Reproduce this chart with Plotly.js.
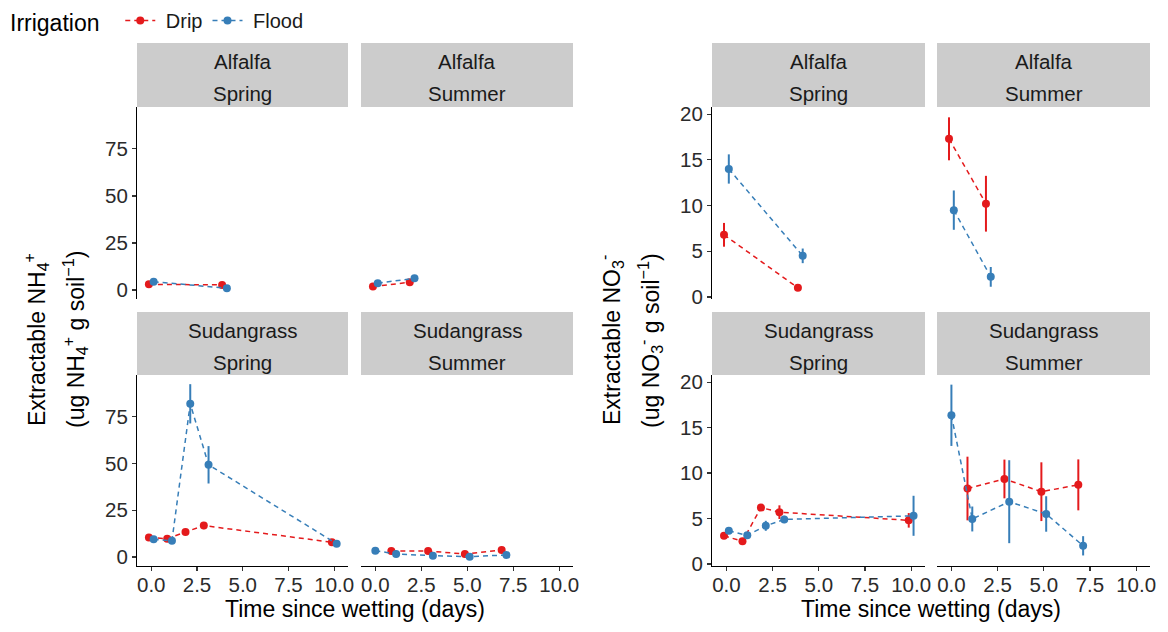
<!DOCTYPE html>
<html>
<head>
<meta charset="utf-8">
<script src="https://cdn.plot.ly/plotly-3.0.1.min.js"></script>
<style>html,body{margin:0;padding:0;background:#fff;}#chart{width:1168px;height:632px;}</style>
</head>
<body>
<div id="chart"></div>
<script>
// ---------- data ----------
const irrigation = ["Drip", "Flood"];
const irrigationColors = ["#E41A1C", "#377EB8"];
const crops = ["Alfalfa", "Sudangrass"];
const seasons = ["Spring", "Summer"];
const xTickVals = [0, 2.5, 5, 7.5, 10];
const xTickText = ["0.0", "2.5", "5.0", "7.5", "10.0"];
const nh4TickVals = [0, 25, 50, 75];
const no3TickVals = [0, 5, 10, 15, 20];

// NH4 - Alfalfa Spring
const nh4AlfSprDripT = [0, 4];
const nh4AlfSprDrip = [3.0, 2.7];
const nh4AlfSprDripSE = [0.6, 0.5];
const nh4AlfSprFloodT = [0, 4];
const nh4AlfSprFlood = [4.4, 0.9];
const nh4AlfSprFloodSE = [0.7, 0.4];
// NH4 - Alfalfa Summer
const nh4AlfSumDripT = [0, 2];
const nh4AlfSumDrip = [1.8, 4.1];
const nh4AlfSumDripSE = [0.5, 0.7];
const nh4AlfSumFloodT = [0, 2];
const nh4AlfSumFlood = [3.6, 6.2];
const nh4AlfSumFloodSE = [0.6, 0.9];
// NH4 - Sudangrass Spring
const nh4SudSprDripT = [0, 1, 2, 3, 10];
const nh4SudSprDrip = [10.5, 9.8, 13.4, 16.8, 7.9];
const nh4SudSprDripSE = [1.0, 1.0, 1.2, 1.9, 1.0];
const nh4SudSprFloodT = [0, 1, 2, 3, 10];
const nh4SudSprFlood = [9.5, 8.7, 81.9, 49.3, 7.1];
const nh4SudSprFloodSE = [1.0, 1.0, 10.5, 10.0, 1.0];
// NH4 - Sudangrass Summer
const nh4SudSumDripT = [1, 3, 5, 7];
const nh4SudSumDrip = [3.2, 3.2, 1.6, 3.7];
const nh4SudSumDripSE = [0.6, 0.6, 0.5, 0.7];
const nh4SudSumFloodT = [0, 1, 3, 5, 7];
const nh4SudSumFlood = [3.4, 1.6, 0.7, 0.2, 1.1];
const nh4SudSumFloodSE = [0.6, 0.4, 0.3, 0.2, 0.3];

// NO3 - Alfalfa Spring
const no3AlfSprDripT = [0, 4];
const no3AlfSprDrip = [6.8, 1.0];
const no3AlfSprDripSE = [1.3, 0.2];
const no3AlfSprFloodT = [0, 4];
const no3AlfSprFlood = [14.0, 4.5];
const no3AlfSprFloodSE = [1.6, 0.8];
// NO3 - Alfalfa Summer
const no3AlfSumDripT = [0, 2];
const no3AlfSumDrip = [17.3, 10.2];
const no3AlfSumDripSE = [2.35, 3.05];
const no3AlfSumFloodT = [0, 2];
const no3AlfSumFlood = [9.5, 2.2];
const no3AlfSumFloodSE = [2.15, 1.08];
// NO3 - Sudangrass Spring
const no3SudSprDripT = [0, 1, 2, 3, 10];
const no3SudSprDrip = [3.1, 2.5, 6.2, 5.7, 4.8];
const no3SudSprDripSE = [0.3, 0.3, 0.3, 0.75, 0.8];
const no3SudSprFloodT = [0, 1, 2, 3, 10];
const no3SudSprFlood = [3.65, 3.15, 4.2, 4.9, 5.3];
const no3SudSprFloodSE = [0.3, 0.3, 0.55, 0.4, 2.2];
// NO3 - Sudangrass Summer
const no3SudSumDripT = [1, 3, 5, 7];
const no3SudSumDrip = [8.3, 9.35, 7.95, 8.7];
const no3SudSumDripSE = [3.5, 2.13, 3.23, 2.8];
const no3SudSumFloodT = [0, 1, 3, 5, 7];
const no3SudSumFlood = [16.35, 4.95, 6.85, 5.5, 2.0];
const no3SudSumFloodSE = [3.37, 1.37, 4.56, 1.95, 1.06];

// ---------- layout helpers ----------
const W = 1168, H = 632;
const fx = p => p / W;
const fy = p => 1 - p / H;
const FONT = "Liberation Sans, Arial, Helvetica, sans-serif";
const NB = "\u00a0";
const colPx = [[137, 348], [361, 573], [712, 925], [937, 1150]];
const rowPx = [[107, 299], [375, 566]];
const stripPx = [[43, 107], [312, 375]];
const xRange = [-0.78, 10.75];
const nh4Range = [-4.8, 97.3];
const no3Range = [-0.22, 20.78];
const DODGE = 0.13;

const panels = [
  {row: 0, col: 0, crop: 0, season: 0, nh4: true, d: [nh4AlfSprDripT, nh4AlfSprDrip, nh4AlfSprDripSE], f: [nh4AlfSprFloodT, nh4AlfSprFlood, nh4AlfSprFloodSE]},
  {row: 0, col: 1, crop: 0, season: 1, nh4: true, d: [nh4AlfSumDripT, nh4AlfSumDrip, nh4AlfSumDripSE], f: [nh4AlfSumFloodT, nh4AlfSumFlood, nh4AlfSumFloodSE]},
  {row: 0, col: 2, crop: 0, season: 0, nh4: false, d: [no3AlfSprDripT, no3AlfSprDrip, no3AlfSprDripSE], f: [no3AlfSprFloodT, no3AlfSprFlood, no3AlfSprFloodSE]},
  {row: 0, col: 3, crop: 0, season: 1, nh4: false, d: [no3AlfSumDripT, no3AlfSumDrip, no3AlfSumDripSE], f: [no3AlfSumFloodT, no3AlfSumFlood, no3AlfSumFloodSE]},
  {row: 1, col: 0, crop: 1, season: 0, nh4: true, d: [nh4SudSprDripT, nh4SudSprDrip, nh4SudSprDripSE], f: [nh4SudSprFloodT, nh4SudSprFlood, nh4SudSprFloodSE]},
  {row: 1, col: 1, crop: 1, season: 1, nh4: true, d: [nh4SudSumDripT, nh4SudSumDrip, nh4SudSumDripSE], f: [nh4SudSumFloodT, nh4SudSumFlood, nh4SudSumFloodSE]},
  {row: 1, col: 2, crop: 1, season: 0, nh4: false, d: [no3SudSprDripT, no3SudSprDrip, no3SudSprDripSE], f: [no3SudSprFloodT, no3SudSprFlood, no3SudSprFloodSE]},
  {row: 1, col: 3, crop: 1, season: 1, nh4: false, d: [no3SudSumDripT, no3SudSumDrip, no3SudSumDripSE], f: [no3SudSumFloodT, no3SudSumFlood, no3SudSumFloodSE]}
];

const traces = [];
const layout = {
  width: W, height: H,
  margin: {l: 0, r: 0, t: 0, b: 0},
  paper_bgcolor: "#fff", plot_bgcolor: "#fff",
  font: {family: FONT, color: "#1a1a1a"},
  showlegend: true,
  legend: {
    orientation: "h", x: fx(8), y: 1 - 1 / H, xanchor: "left", yanchor: "top",
    title: {text: "Irrigation" + NB + NB, font: {size: 23, color: "#000"}, side: "left"},
    font: {size: 20, color: "#1a1a1a"}, itemwidth: 30, tracegroupgap: 0, bgcolor: "rgba(0,0,0,0)"
  },
  shapes: [], annotations: []
};

panels.forEach((p, i) => {
  const k = i + 1;
  const xa = "x" + k, ya = "y" + k;
  const groups = [p.d, p.f];
  groups.forEach((g, gi) => {
    const other = groups[1 - gi][0];
    const xs = g[0].map(t => other.indexOf(t) >= 0 ? t + (gi === 0 ? -DODGE : DODGE) : t);
    traces.push({
      type: "scatter", mode: "lines+markers",
      x: xs, y: g[1],
      error_y: {type: "data", array: g[2], visible: true, thickness: 2, width: 0, color: irrigationColors[gi]},
      line: {color: irrigationColors[gi], width: 1.5, dash: "5px,4px"},
      marker: {color: irrigationColors[gi], size: 8},
      name: NB + irrigation[gi], legendgroup: irrigation[gi], showlegend: k === 1,
      xaxis: xa, yaxis: ya, hoverinfo: "skip"
    });
  });
  const showX = p.row === 1;
  const showY = p.col === 0 || p.col === 2;
  layout["xaxis" + k] = {
    domain: [fx(colPx[p.col][0]), fx(colPx[p.col][1])], range: xRange, anchor: ya,
    showgrid: false, zeroline: false, fixedrange: true,
    showline: showX, linecolor: "#000", linewidth: 1.1,
    ticks: showX ? "outside" : "", ticklen: 4, tickwidth: 1.1, tickcolor: "#333",
    showticklabels: showX, tickmode: "array", tickvals: xTickVals, ticktext: xTickText,
    ticklabelstandoff: -4,
    tickfont: {size: 20.5, color: "#2b2b2b"}
  };
  layout["yaxis" + k] = {
    domain: [fy(rowPx[p.row][1]), fy(rowPx[p.row][0])], range: p.nh4 ? nh4Range : no3Range, anchor: xa,
    showgrid: false, zeroline: false, fixedrange: true,
    showline: showY, linecolor: "#000", linewidth: 1.1,
    ticks: showY ? "outside" : "", ticklen: 4, tickwidth: 1.1, tickcolor: "#333",
    showticklabels: showY, tickmode: "array", tickvals: p.nh4 ? nh4TickVals : no3TickVals,
    tickfont: {size: 20.5, color: "#2b2b2b"}
  };
  // strip
  const sx0 = colPx[p.col][0], sx1 = colPx[p.col][1];
  const sy0 = stripPx[p.row][0], sy1 = stripPx[p.row][1];
  layout.shapes.push({type: "rect", xref: "paper", yref: "paper", x0: fx(sx0), x1: fx(sx1), y0: fy(sy1), y1: fy(sy0),
    fillcolor: "#CCCCCC", line: {width: 0}, layer: "below"});
  const cx = fx((sx0 + sx1) / 2);
  layout.annotations.push({xref: "paper", yref: "paper", x: cx, y: fy(sy0 + 18.5), text: crops[p.crop],
    showarrow: false, xanchor: "center", yanchor: "middle", font: {size: 20.5, color: "#1a1a1a"}});
  layout.annotations.push({xref: "paper", yref: "paper", x: cx, y: fy(sy0 + 50), text: seasons[p.season],
    showarrow: false, xanchor: "center", yanchor: "middle", font: {size: 20.5, color: "#1a1a1a"}});
});

// axis titles
const titleFont = {size: 23, color: "#000"};
layout.annotations.push(
  {xref: "paper", yref: "paper", x: fx(355), y: fy(609), text: "Time since wetting (days)", showarrow: false,
   xanchor: "center", yanchor: "middle", font: titleFont},
  {xref: "paper", yref: "paper", x: fx(931), y: fy(609), text: "Time since wetting (days)", showarrow: false,
   xanchor: "center", yanchor: "middle", font: titleFont},
  {xref: "paper", yref: "paper", x: fx(36), y: fy(340), text: "Extractable NH<sub>4</sub><sup>+</sup>", textangle: -90,
   showarrow: false, xanchor: "center", yanchor: "middle", font: titleFont},
  {xref: "paper", yref: "paper", x: fx(75), y: fy(340), text: "(ug NH<sub>4</sub><sup>+</sup> g soil<sup>\u22121</sup>)", textangle: -90,
   showarrow: false, xanchor: "center", yanchor: "middle", font: titleFont},
  {xref: "paper", yref: "paper", x: fx(611), y: fy(340), text: "Extractable NO<sub>3</sub><sup>-</sup>", textangle: -90,
   showarrow: false, xanchor: "center", yanchor: "middle", font: titleFont},
  {xref: "paper", yref: "paper", x: fx(650), y: fy(340), text: "(ug NO<sub>3</sub><sup>-</sup> g soil<sup>\u22121</sup>)", textangle: -90,
   showarrow: false, xanchor: "center", yanchor: "middle", font: titleFont}
);

Plotly.newPlot("chart", traces, layout, {displayModeBar: false, staticPlot: true});
</script>
</body>
</html>
